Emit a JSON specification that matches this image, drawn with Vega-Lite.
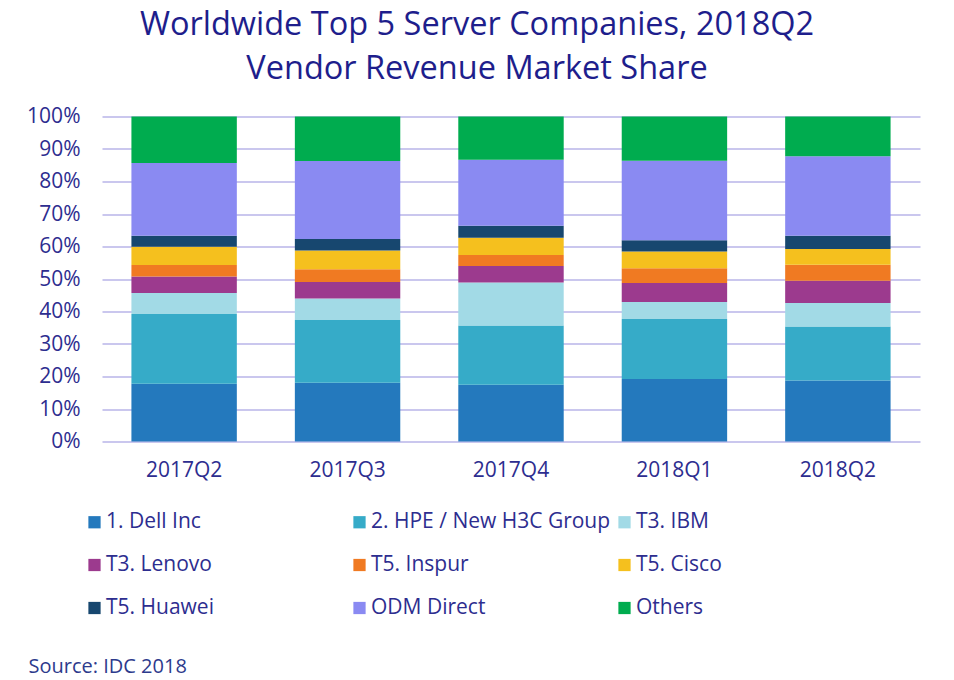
{
  "$schema": "https://vega.github.io/schema/vega-lite/v6.json",
  "autosize": {"type": "none"},
  "width": 818,
  "height": 325,
  "padding": {"left": 102, "top": 116.5, "right": 34, "bottom": 238.5},
  "background": "white",
  "title": {
    "text": ["Worldwide Top 5 Server Companies, 2018Q2", "Vendor Revenue Market Share"],
    "font": "Open Sans",
    "fontSize": 32.5,
    "fontWeight": "normal",
    "color": "#1e1e8c",
    "anchor": "middle",
    "baseline": "bottom",
    "lineHeight": 44,
    "dx": -34,
    "offset": -13
  },
  "data": {
    "values": [
      {"quarter": "2017Q2", "vendor": "1. Dell Inc", "share": 17.8},
      {"quarter": "2017Q2", "vendor": "2. HPE / New H3C Group", "share": 21.4},
      {"quarter": "2017Q2", "vendor": "T3. IBM", "share": 6.5},
      {"quarter": "2017Q2", "vendor": "T3. Lenovo", "share": 5.1},
      {"quarter": "2017Q2", "vendor": "T5. Inspur", "share": 3.5},
      {"quarter": "2017Q2", "vendor": "T5. Cisco", "share": 5.6},
      {"quarter": "2017Q2", "vendor": "T5. Huawei", "share": 3.4},
      {"quarter": "2017Q2", "vendor": "ODM Direct", "share": 22.4},
      {"quarter": "2017Q2", "vendor": "Others", "share": 14.3},
      {"quarter": "2017Q3", "vendor": "1. Dell Inc", "share": 18.1},
      {"quarter": "2017Q3", "vendor": "2. HPE / New H3C Group", "share": 19.3},
      {"quarter": "2017Q3", "vendor": "T3. IBM", "share": 6.6},
      {"quarter": "2017Q3", "vendor": "T3. Lenovo", "share": 5.1},
      {"quarter": "2017Q3", "vendor": "T5. Inspur", "share": 3.9},
      {"quarter": "2017Q3", "vendor": "T5. Cisco", "share": 5.8},
      {"quarter": "2017Q3", "vendor": "T5. Huawei", "share": 3.5},
      {"quarter": "2017Q3", "vendor": "ODM Direct", "share": 24.0},
      {"quarter": "2017Q3", "vendor": "Others", "share": 13.7},
      {"quarter": "2017Q4", "vendor": "1. Dell Inc", "share": 17.5},
      {"quarter": "2017Q4", "vendor": "2. HPE / New H3C Group", "share": 18.2},
      {"quarter": "2017Q4", "vendor": "T3. IBM", "share": 13.2},
      {"quarter": "2017Q4", "vendor": "T3. Lenovo", "share": 5.1},
      {"quarter": "2017Q4", "vendor": "T5. Inspur", "share": 3.4},
      {"quarter": "2017Q4", "vendor": "T5. Cisco", "share": 5.3},
      {"quarter": "2017Q4", "vendor": "T5. Huawei", "share": 3.7},
      {"quarter": "2017Q4", "vendor": "ODM Direct", "share": 20.3},
      {"quarter": "2017Q4", "vendor": "Others", "share": 13.3},
      {"quarter": "2018Q1", "vendor": "1. Dell Inc", "share": 19.2},
      {"quarter": "2018Q1", "vendor": "2. HPE / New H3C Group", "share": 18.5},
      {"quarter": "2018Q1", "vendor": "T3. IBM", "share": 5.2},
      {"quarter": "2018Q1", "vendor": "T3. Lenovo", "share": 5.9},
      {"quarter": "2018Q1", "vendor": "T5. Inspur", "share": 4.5},
      {"quarter": "2018Q1", "vendor": "T5. Cisco", "share": 5.2},
      {"quarter": "2018Q1", "vendor": "T5. Huawei", "share": 3.4},
      {"quarter": "2018Q1", "vendor": "ODM Direct", "share": 24.5},
      {"quarter": "2018Q1", "vendor": "Others", "share": 13.6},
      {"quarter": "2018Q2", "vendor": "1. Dell Inc", "share": 18.8},
      {"quarter": "2018Q2", "vendor": "2. HPE / New H3C Group", "share": 16.6},
      {"quarter": "2018Q2", "vendor": "T3. IBM", "share": 7.2},
      {"quarter": "2018Q2", "vendor": "T3. Lenovo", "share": 6.9},
      {"quarter": "2018Q2", "vendor": "T5. Inspur", "share": 4.9},
      {"quarter": "2018Q2", "vendor": "T5. Cisco", "share": 4.8},
      {"quarter": "2018Q2", "vendor": "T5. Huawei", "share": 4.1},
      {"quarter": "2018Q2", "vendor": "ODM Direct", "share": 24.5},
      {"quarter": "2018Q2", "vendor": "Others", "share": 12.2}
    ]
  },
  "transform": [
    {
      "calculate": "indexof(['1. Dell Inc', '2. HPE / New H3C Group', 'T3. IBM', 'T3. Lenovo', 'T5. Inspur', 'T5. Cisco', 'T5. Huawei', 'ODM Direct', 'Others'], datum.vendor)",
      "as": "stackOrder"
    }
  ],
  "mark": {"type": "bar"},
  "encoding": {
    "x": {
      "field": "quarter",
      "type": "nominal",
      "scale": {"paddingInner": 0.355, "paddingOuter": 0.18},
      "axis": {
        "title": "Source: IDC 2018",
        "titleFont": "Open Sans",
        "titleFontSize": 20,
        "titleFontWeight": "normal",
        "titleColor": "#2d3a8c",
        "titleAnchor": "start",
        "titleAlign": "left",
        "titleBaseline": "alphabetic",
        "titleX": -74,
        "titleY": 231,
        "labelAngle": 0,
        "labelFont": "Open Sans",
        "labelFontSize": 21,
        "labelColor": "#2d2d8f",
        "labelPadding": 18,
        "domain": false,
        "ticks": false
      }
    },
    "y": {
      "field": "share",
      "type": "quantitative",
      "stack": "zero",
      "scale": {"domain": [0, 100]},
      "axis": {
        "title": null,
        "values": [0, 10, 20, 30, 40, 50, 60, 70, 80, 90, 100],
        "labelExpr": "datum.value + '%'",
        "labelFont": "Open Sans",
        "labelFontSize": 21,
        "labelColor": "#2d2d8f",
        "labelPadding": 22,
        "domain": false,
        "ticks": false,
        "grid": true,
        "gridColor": "#b8b4e8",
        "gridWidth": 1.5
      }
    },
    "order": {"field": "stackOrder", "type": "quantitative", "sort": "ascending"},
    "color": {
      "field": "vendor",
      "type": "nominal",
      "scale": {
        "domain": ["1. Dell Inc", "2. HPE / New H3C Group", "T3. IBM", "T3. Lenovo", "T5. Inspur", "T5. Cisco", "T5. Huawei", "ODM Direct", "Others"],
        "range": ["#2479bd", "#36abc8", "#a2dae6", "#9c3a8e", "#f07a22", "#f5c01e", "#17476f", "#8a8af2", "#00ac4f"]
      },
      "legend": {
        "title": null,
        "orient": "none",
        "legendX": -18,
        "legendY": 395,
        "direction": "horizontal",
        "columns": 3,
        "gridAlign": "all",
        "columnPadding": 3,
        "rowPadding": 21,
        "padding": 0,
        "symbolType": "square",
        "symbolSize": 150,
        "symbolStrokeWidth": 0,
        "labelOffset": 1,
        "labelFont": "Open Sans",
        "labelFontSize": 21,
        "labelColor": "#2d2d8f",
        "labelLimit": 400
      }
    },
    "tooltip": [
      {"field": "quarter", "type": "nominal"},
      {"field": "vendor", "type": "nominal"},
      {"field": "share", "type": "quantitative"}
    ]
  },
  "config": {
    "view": {"stroke": null},
    "font": "Open Sans"
  }
}
